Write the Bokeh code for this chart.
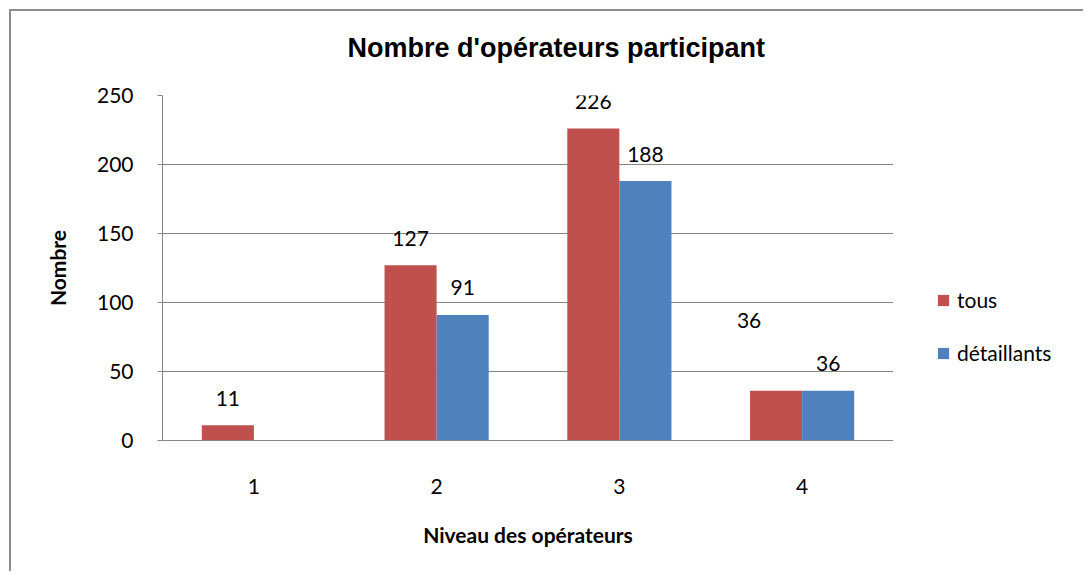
import math
from bokeh.plotting import figure
from bokeh.layouts import row
from bokeh.models import (ColumnDataSource, FactorRange, Legend, LegendItem,
                          FixedTicker, Range1d, Title)
from bokeh.transform import dodge
from bokeh.core.properties import value
from bokeh.embed import file_html
from bokeh.resources import INLINE

# ---- data ----
categories = ["1", "2", "3", "4"]
tous = [11, 127, 226, 36]
detaillants = [float("nan"), 91, 188, 36]
series_names = ["tous", "détaillants"]
y_ticks = [0, 50, 100, 150, 200, 250]

title_text = "Nombre d'opérateurs participant"
x_label = "Niveau des opérateurs"
y_label = "Nombre"

# manual nudges for data labels (pixels), as in the original chart
tous_label_dx = [0, 0, 0, -27]
tous_label_dy = [0, 0, 0, -43]

RED = "#C0504D"
BLUE = "#4F81BD"
GRID = "#868686"
TXT = "#000000"
FONT = "Lato"

p = figure(x_range=FactorRange(factors=categories, range_padding=0),
           y_range=Range1d(0, 250), title=None,
           width=882, height=560,
           output_backend="svg", toolbar_location=None,
           min_border_left=151, min_border_right=0,
           min_border_top=84, min_border_bottom=131)
p.outline_line_color = None
p.background_fill_color = "white"
p.border_fill_color = "white"

# title (a thin spacer panel sits between the title and the plot area)
spacer = Title(text=" ", text_font_size="1px", standoff=30)
main_title = Title(text=title_text, align="left", offset=185, standoff=0,
                   text_font="Liberation Sans", text_font_style="bold",
                   text_font_size="27px", text_color=TXT)
p.add_layout(spacer, "above")
p.add_layout(main_title, "above")

bw = 0.285
src_t = ColumnDataSource(dict(cat=categories, val=tous))
src_d = ColumnDataSource(dict(cat=categories, val=detaillants))

p.vbar(x=dodge("cat", -bw / 2, range=p.x_range), top="val", width=bw,
       source=src_t, fill_color=RED, line_color=None)
p.vbar(x=dodge("cat", bw / 2, range=p.x_range), top="val", width=bw,
       source=src_d, fill_color=BLUE, line_color=None)

# data labels
lab_t = ColumnDataSource(dict(cat=categories, val=tous,
                              txt=[str(v) for v in tous],
                              dx=tous_label_dx,
                              dy=[-27 + d for d in tous_label_dy]))
d_cats = [c for c, v in zip(categories, detaillants) if not math.isnan(v)]
d_vals = [v for v in detaillants if not math.isnan(v)]
lab_d = ColumnDataSource(dict(cat=d_cats, val=d_vals,
                              txt=[str(int(v)) for v in d_vals]))

p.text(x=dodge("cat", -bw / 2, range=p.x_range), y="val", text="txt",
       x_offset="dx", y_offset="dy", source=lab_t,
       text_font=value(FONT), text_font_size="21px", text_color=TXT,
       text_align="center", text_baseline="middle")
p.text(x=dodge("cat", bw / 2, range=p.x_range), y="val", text="txt",
       y_offset=-27, source=lab_d,
       text_font=value(FONT), text_font_size="21px", text_color=TXT,
       text_align="center", text_baseline="middle")

# axes
p.yaxis.ticker = FixedTicker(ticks=y_ticks)
p.yaxis.axis_line_color = GRID
p.yaxis.major_tick_line_color = GRID
p.yaxis.major_tick_out = 5
p.yaxis.major_tick_in = 0
p.yaxis.minor_tick_line_color = None
p.yaxis.major_label_standoff = 24
p.yaxis.major_label_text_font = FONT
p.yaxis.major_label_text_font_size = "21px"
p.yaxis.major_label_text_color = TXT
p.yaxis.axis_label = y_label
p.yaxis.axis_label_text_font = FONT
p.yaxis.axis_label_text_font_style = "bold"
p.yaxis.axis_label_text_font_size = "21px"
p.yaxis.axis_label_text_color = TXT
p.yaxis.axis_label_standoff = 24

p.xaxis.axis_line_color = GRID
p.xaxis.major_tick_line_color = None
p.xaxis.major_tick_out = 0
p.xaxis.minor_tick_line_color = None
p.xaxis.major_label_standoff = 38
p.xaxis.major_label_text_font = FONT
p.xaxis.major_label_text_font_size = "21px"
p.xaxis.major_label_text_color = TXT
p.xaxis.axis_label = x_label
p.xaxis.axis_label_text_font = FONT
p.xaxis.axis_label_text_font_style = "bold"
p.xaxis.axis_label_text_font_size = "21px"
p.xaxis.axis_label_text_color = TXT
p.xaxis.axis_label_standoff = 25

p.xgrid.grid_line_color = None
p.ygrid.grid_line_color = GRID
p.ygrid.grid_line_width = 1

# legend panel (separate canvas on the right; swatch renderers lie outside its view)
lg = figure(width=190, height=560, output_backend="svg", toolbar_location=None,
            x_axis_location=None, y_axis_location=None,
            min_border=0, x_range=Range1d(0, 1), y_range=Range1d(0, 1))
lg.outline_line_color = None
lg.grid.grid_line_color = None
lg.background_fill_color = "white"
lg.border_fill_color = "white"
sw_t = lg.vbar(x=[-5], top=[-5], width=0.1, fill_color=RED, line_color=None)
sw_d = lg.vbar(x=[-5], top=[-5], width=0.1, fill_color=BLUE, line_color=None)
legend = Legend(items=[LegendItem(label=series_names[0], renderers=[sw_t]),
                       LegendItem(label=series_names[1], renderers=[sw_d])],
                location=(43, 75), padding=0, margin=0,
                border_line_color=None, background_fill_alpha=0,
                glyph_width=14, glyph_height=14, label_standoff=7,
                spacing=28, label_text_font=FONT, label_text_font_size="21px",
                label_text_color=TXT)
lg.add_layout(legend, "center")

layout = row(p, lg, spacing=0)
layout.margin = (9, 0, 0, 9)
layout.styles = {"border-top": "2px solid #8c8c8c", "border-left": "2px solid #8c8c8c"}

open("out.html", "w").write(file_html(layout, INLINE))
